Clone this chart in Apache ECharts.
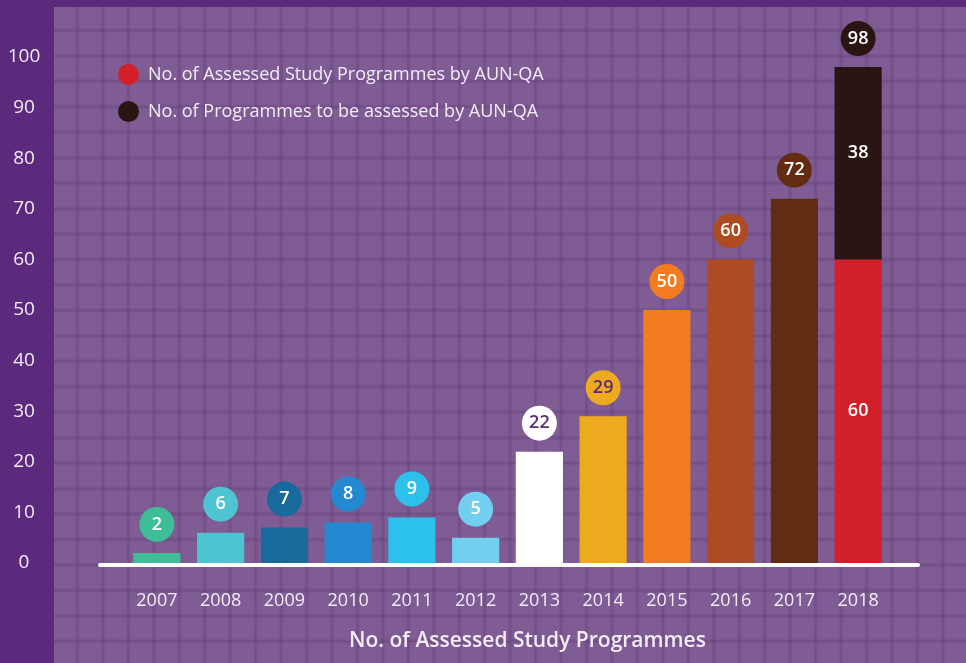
<!DOCTYPE html>
<html>
<head>
<meta charset="UTF-8">
<title>AUN-QA</title>
<style>
  html, body { margin: 0; padding: 0; background: #5c2a7c; }
  #chart { width: 966px; height: 663px; }
</style>
</head>
<body>
<div id="chart"></div>
<script src="https://cdn.jsdelivr.net/npm/echarts@6/dist/echarts.min.js"></script>
<script>
// data
var years = ['2007', '2008', '2009', '2010', '2011', '2012', '2013', '2014', '2015', '2016', '2017', '2018'];
var assessed = [2, 6, 7, 8, 9, 5, 22, 29, 50, 60, 72, 60];
var toBeAssessed = ['-', '-', '-', '-', '-', '-', '-', '-', '-', '-', '-', 38];
var barColors = ['#3dbd98', '#4ec4d3', '#176a9b', '#2489d0', '#2cc0ec', '#72cff0', '#ffffff',
                 '#eeaa1f', '#f37c21', '#ad4b23', '#612c12', '#d2202a'];
var bubbleText = ['#fff', '#fff', '#fff', '#fff', '#fff', '#fff', '#5a2c7a', '#5a2c7a', '#fff', '#fff', '#fff', '#fff'];
var seriesNames = ['No. of Assessed Study Programmes by AUN-QA', 'No. of Programmes to be assessed by AUN-QA'];

var FONT = 'Open Sans';
var TXT = '#f3ecf6';

// squared paper background
var step = 280 / 11;
var cv = document.createElement('canvas');
cv.width = 280; cv.height = 280;
var ctx = cv.getContext('2d');
ctx.fillStyle = '#7f5c94';
ctx.fillRect(0, 0, 280, 280);
for (var k = 1; k <= 11; k++) {
  var p = k * step - 2;
  // soft wide stroke + thin darker core
  ctx.strokeStyle = 'rgba(100,62,122,0.22)';
  ctx.lineWidth = 4;
  ctx.beginPath(); ctx.moveTo(p, 0); ctx.lineTo(p, 280); ctx.stroke();
  ctx.beginPath(); ctx.moveTo(0, p); ctx.lineTo(280, p); ctx.stroke();
  ctx.strokeStyle = 'rgba(100,62,122,0.25)';
  ctx.lineWidth = 1.5;
  ctx.beginPath(); ctx.moveTo(p, 0); ctx.lineTo(p, 280); ctx.stroke();
  ctx.beginPath(); ctx.moveTo(0, p); ctx.lineTo(280, p); ctx.stroke();
}

function bubble(color, textColor) {
  return {
    show: true,
    position: 'top',
    distance: 11,
    width: 35,
    height: 35,
    lineHeight: 35,
    borderRadius: 17.5,
    padding: 0,
    align: 'center',
    backgroundColor: color,
    color: textColor,
    fontFamily: FONT,
    fontSize: 18,
    fontWeight: 600
  };
}

var assessedData = assessed.map(function (v, i) {
  var item = { value: v, itemStyle: { color: barColors[i] }, label: bubble(barColors[i], bubbleText[i]) };
  if (i === years.length - 1) {
    item.label = { show: true, position: 'inside', color: '#fff', fontFamily: FONT, fontSize: 18, fontWeight: 600 };
  }
  return item;
});

var totalData = years.map(function (y, i) {
  return toBeAssessed[i] === '-' ? '-' : 0;
});

var chart = echarts.init(document.getElementById('chart'));
var option = {
  backgroundColor: '#5c2a7c',
  animation: false,
  graphic: {
    elements: [{
      type: 'rect',
      x: 54, y: 7,
      z: -10,
      silent: true,
      shape: { x: 0, y: 0, width: 920, height: 660 },
      style: { fill: { image: cv, repeat: 'repeat' } }
    }]
  },
  legend: {
    data: seriesNames,
    orient: 'vertical',
    left: 113,
    top: 59,
    itemWidth: 21,
    itemHeight: 21,
    itemGap: 16,
    icon: 'circle',
    selectedMode: false,
    textStyle: { color: TXT, fontFamily: FONT, fontSize: 18, padding: [0, 0, 0, 4] }
  },
  grid: [
    { left: 125, right: 76, top: 57, bottom: 100 },
    { left: 100, right: 48, top: 57, bottom: 98 }
  ],
  xAxis: [{
    type: 'category',
    gridIndex: 0,
    data: years,
    axisLine: { show: false },
    axisTick: { show: false },
    axisLabel: { color: TXT, fontFamily: FONT, fontSize: 18, margin: 29 },
    name: 'No. of Assessed Study Programmes',
    nameLocation: 'middle',
    nameGap: 68,
    nameTextStyle: { color: TXT, fontFamily: FONT, fontSize: 21, fontWeight: 600, padding: [0, 0, 0, 40] }
  }, {
    type: 'value',
    gridIndex: 1,
    min: 0, max: 1,
    axisLine: { show: true, lineStyle: { color: '#ffffff', width: 4 } },
    axisTick: { show: false },
    axisLabel: { show: false },
    splitLine: { show: false }
  }],
  yAxis: [{
    type: 'value',
    gridIndex: 0,
    min: 0, max: 100, interval: 10,
    axisLine: { show: false },
    axisTick: { show: false },
    splitLine: { show: false },
    axisLabel: { color: TXT, fontFamily: FONT, fontSize: 19, align: 'center', margin: 101 }
  }, {
    type: 'value',
    gridIndex: 1,
    min: 0, max: 1,
    show: false
  }],
  series: [{
    name: seriesNames[0],
    type: 'bar',
    stack: 'total',
    barCategoryGap: '26%',
    itemStyle: { color: '#d2202a' },
    data: assessedData
  }, {
    name: seriesNames[1],
    type: 'bar',
    stack: 'total',
    itemStyle: { color: '#2b1512' },
    label: { show: true, position: 'inside', offset: [0, -10], color: '#fff', fontFamily: FONT, fontSize: 18, fontWeight: 600 },
    data: toBeAssessed
  }, {
    name: 'total',
    type: 'bar',
    stack: 'total',
    silent: true,
    label: Object.assign(bubble('#2b1512', '#fff'), {
      formatter: function (p) { return assessed[p.dataIndex] + toBeAssessed[p.dataIndex]; }
    }),
    data: totalData
  }]
};
chart.setOption(option);
</script>
</body>
</html>
